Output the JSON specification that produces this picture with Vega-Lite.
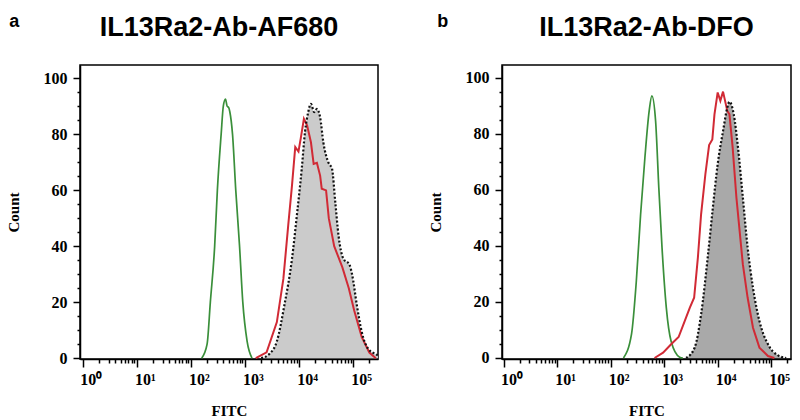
{
  "$schema": "https://vega.github.io/schema/vega-lite/v6.json",
  "padding": {"left": 5, "top": 13, "right": 5, "bottom": 3},
  "spacing": 48,
  "config": {
    "view": {"stroke": "black", "strokeWidth": 1.5},
    "axis": {"domainColor": "black", "domainWidth": 1.5, "tickColor": "black", "tickWidth": 1.5, "labelColor": "black", "titleColor": "black", "grid": false, "labelOverlap": false, "labelFont": "Liberation Serif", "labelFontWeight": "bold", "labelFontSize": 16, "titleFont": "Liberation Serif", "titleFontWeight": "bold", "titleFontSize": 15},
    "title": {"color": "black", "font": "Liberation Sans", "fontWeight": "bold"}
  },
  "datasets": {
    "a": [
      {"s": "green", "L": 2.20, "count": 0}, {"s": "green", "L": 2.30, "count": 5}, {"s": "green", "L": 2.36, "count": 20}, {"s": "green", "L": 2.44, "count": 40}, {"s": "green", "L": 2.49, "count": 60}, {"s": "green", "L": 2.56, "count": 80}, {"s": "green", "L": 2.60, "count": 90}, {"s": "green", "L": 2.64, "count": 92.5}, {"s": "green", "L": 2.67, "count": 90}, {"s": "green", "L": 2.70, "count": 89.5}, {"s": "green", "L": 2.72, "count": 88}, {"s": "green", "L": 2.77, "count": 80}, {"s": "green", "L": 2.83, "count": 60}, {"s": "green", "L": 2.90, "count": 40}, {"s": "green", "L": 2.96, "count": 20}, {"s": "green", "L": 3.04, "count": 6}, {"s": "green", "L": 3.13, "count": 0},
      {"s": "red", "L": 3.20, "count": 0}, {"s": "red", "L": 3.40, "count": 2.1}, {"s": "red", "L": 3.59, "count": 12.9}, {"s": "red", "L": 3.71, "count": 28.3}, {"s": "red", "L": 3.80, "count": 47.4}, {"s": "red", "L": 3.87, "count": 61.7}, {"s": "red", "L": 3.93, "count": 75.4}, {"s": "red", "L": 3.99, "count": 73.8}, {"s": "red", "L": 4.03, "count": 78.3}, {"s": "red", "L": 4.09, "count": 85.5}, {"s": "red", "L": 4.15, "count": 83.1}, {"s": "red", "L": 4.22, "count": 77.1}, {"s": "red", "L": 4.27, "count": 69.4}, {"s": "red", "L": 4.33, "count": 69.8}, {"s": "red", "L": 4.39, "count": 65.2}, {"s": "red", "L": 4.42, "count": 60.5}, {"s": "red", "L": 4.50, "count": 59.9}, {"s": "red", "L": 4.55, "count": 50}, {"s": "red", "L": 4.60, "count": 45}, {"s": "red", "L": 4.65, "count": 40}, {"s": "red", "L": 4.80, "count": 32.5}, {"s": "red", "L": 4.92, "count": 25}, {"s": "red", "L": 5.02, "count": 17}, {"s": "red", "L": 5.16, "count": 7.5}, {"s": "red", "L": 5.30, "count": 2}, {"s": "red", "L": 5.42, "count": 0},
      {"s": "gray", "L": 3.30, "count": 0}, {"s": "gray", "L": 3.45, "count": 1.5}, {"s": "gray", "L": 3.59, "count": 6}, {"s": "gray", "L": 3.73, "count": 19}, {"s": "gray", "L": 3.87, "count": 35.5}, {"s": "gray", "L": 3.96, "count": 51}, {"s": "gray", "L": 4.05, "count": 67.6}, {"s": "gray", "L": 4.11, "count": 80.7}, {"s": "gray", "L": 4.17, "count": 87.9}, {"s": "gray", "L": 4.22, "count": 90.8}, {"s": "gray", "L": 4.28, "count": 87.9}, {"s": "gray", "L": 4.33, "count": 89}, {"s": "gray", "L": 4.39, "count": 86}, {"s": "gray", "L": 4.45, "count": 77}, {"s": "gray", "L": 4.54, "count": 70}, {"s": "gray", "L": 4.61, "count": 67.6}, {"s": "gray", "L": 4.67, "count": 55.7}, {"s": "gray", "L": 4.73, "count": 43.8}, {"s": "gray", "L": 4.82, "count": 35.5}, {"s": "gray", "L": 4.93, "count": 33.5}, {"s": "gray", "L": 4.98, "count": 30}, {"s": "gray", "L": 5.07, "count": 18.8}, {"s": "gray", "L": 5.16, "count": 9.3}, {"s": "gray", "L": 5.28, "count": 3.3}, {"s": "gray", "L": 5.41, "count": 1.5}, {"s": "gray", "L": 5.46, "count": 1}
    ],
    "b": [
      {"s": "green", "L": 2.24, "count": 0}, {"s": "green", "L": 2.39, "count": 8.5}, {"s": "green", "L": 2.48, "count": 27.5}, {"s": "green", "L": 2.56, "count": 51.3}, {"s": "green", "L": 2.64, "count": 71.5}, {"s": "green", "L": 2.72, "count": 88.2}, {"s": "green", "L": 2.77, "count": 93.6}, {"s": "green", "L": 2.84, "count": 84.6}, {"s": "green", "L": 2.90, "count": 60.8}, {"s": "green", "L": 2.96, "count": 39.4}, {"s": "green", "L": 3.04, "count": 18}, {"s": "green", "L": 3.13, "count": 6}, {"s": "green", "L": 3.29, "count": 0.3}, {"s": "green", "L": 3.35, "count": 0},
      {"s": "red", "L": 2.82, "count": 0}, {"s": "red", "L": 2.98, "count": 1.9}, {"s": "red", "L": 3.13, "count": 4.9}, {"s": "red", "L": 3.27, "count": 7.5}, {"s": "red", "L": 3.38, "count": 13}, {"s": "red", "L": 3.48, "count": 18}, {"s": "red", "L": 3.56, "count": 21.5}, {"s": "red", "L": 3.63, "count": 35.8}, {"s": "red", "L": 3.69, "count": 51.3}, {"s": "red", "L": 3.77, "count": 65.6}, {"s": "red", "L": 3.84, "count": 76}, {"s": "red", "L": 3.90, "count": 78}, {"s": "red", "L": 3.94, "count": 87}, {"s": "red", "L": 4.00, "count": 94.8}, {"s": "red", "L": 4.05, "count": 91.8}, {"s": "red", "L": 4.10, "count": 95.1}, {"s": "red", "L": 4.18, "count": 88.2}, {"s": "red", "L": 4.22, "count": 87}, {"s": "red", "L": 4.28, "count": 75.1}, {"s": "red", "L": 4.35, "count": 57.3}, {"s": "red", "L": 4.41, "count": 45.4}, {"s": "red", "L": 4.47, "count": 33.5}, {"s": "red", "L": 4.56, "count": 21.5}, {"s": "red", "L": 4.66, "count": 10.8}, {"s": "red", "L": 4.78, "count": 3.7}, {"s": "red", "L": 4.94, "count": 0.7}, {"s": "red", "L": 5.06, "count": 0},
      {"s": "gray", "L": 3.41, "count": 0}, {"s": "gray", "L": 3.57, "count": 3.7}, {"s": "gray", "L": 3.69, "count": 15.6}, {"s": "gray", "L": 3.82, "count": 37}, {"s": "gray", "L": 3.91, "count": 53.7}, {"s": "gray", "L": 4.00, "count": 69.2}, {"s": "gray", "L": 4.10, "count": 81}, {"s": "gray", "L": 4.18, "count": 89.4}, {"s": "gray", "L": 4.22, "count": 91.5}, {"s": "gray", "L": 4.30, "count": 87}, {"s": "gray", "L": 4.38, "count": 75.1}, {"s": "gray", "L": 4.47, "count": 57.3}, {"s": "gray", "L": 4.56, "count": 39.4}, {"s": "gray", "L": 4.66, "count": 25}, {"s": "gray", "L": 4.78, "count": 13.2}, {"s": "gray", "L": 4.94, "count": 4.9}, {"s": "gray", "L": 5.12, "count": 1}, {"s": "gray", "L": 5.28, "count": 0}
    ]
  },
  "hconcat": [
    {
      "title": {"text": "a", "anchor": "start", "fontSize": 18, "offset": -18, "dx": 4},
      "vconcat": [
        {
          "width": 298, "height": 294,
          "title": {"text": "IL13Ra2-Ab-AF680", "fontSize": 27, "anchor": "middle", "frame": "group", "offset": 23, "dx": -10},
          "data": {"name": "a"},
          "encoding": {
            "x": {"field": "L", "type": "quantitative", "scale": {"domain": [-0.05, 5.46], "nice": false, "zero": false},
              "axis": {"title": "FITC", "values": [0,0.301,0.477,0.602,0.699,0.778,0.845,0.903,0.954,1,1.301,1.477,1.602,1.699,1.778,1.845,1.903,1.954,2,2.301,2.477,2.602,2.699,2.778,2.845,2.903,2.954,3,3.301,3.477,3.602,3.699,3.778,3.845,3.903,3.954,4,4.301,4.477,4.602,4.699,4.778,4.845,4.903,4.954,5,5.301],
                "labelExpr": "datum.value % 1 == 0 ? '10' + ['⁰','¹','²','³','⁴','⁵'][datum.value] : ''",
                "tickSize": {"condition": {"test": "datum.value % 1 == 0", "value": 8}, "value": 4},
                "labelPadding": 4, "labelOffset": 8, "titlePadding": 16}},
            "y": {"field": "count", "type": "quantitative", "scale": {"domain": [-0.3, 104.7], "nice": false, "zero": false},
              "axis": {"title": "Count", "values": [0,5,10,15,20,25,30,35,40,45,50,55,60,65,70,75,80,85,90,95,100],
                "labelExpr": "datum.value % 20 == 0 ? datum.label : ''",
                "tickSize": {"condition": {"test": "datum.value % 20 == 0", "value": 7}, "value": 3},
                "labelPadding": 6, "titlePadding": 22}}
          },
          "layer": [
            {"transform": [{"filter": "datum.s === 'gray'"}], "mark": {"type": "area", "color": "#cbcbcb", "interpolate": "monotone", "clip": true}},
            {"transform": [{"filter": "datum.s === 'green'"}], "mark": {"type": "line", "color": "#3a8f3a", "strokeWidth": 1.7, "interpolate": "monotone", "clip": true}},
            {"transform": [{"filter": "datum.s === 'red'"}], "mark": {"type": "line", "color": "#d12a35", "strokeWidth": 2, "clip": true}},
            {"transform": [{"filter": "datum.s === 'gray'"}], "mark": {"type": "line", "color": "#111111", "strokeWidth": 2.2, "strokeDash": [2, 2], "interpolate": "monotone", "clip": true}}
          ]
        }
      ]
    },
    {
      "title": {"text": "b", "anchor": "start", "fontSize": 18, "offset": -18, "dx": 10},
      "vconcat": [
        {
          "width": 289, "height": 294,
          "title": {"text": "IL13Ra2-Ab-DFO", "fontSize": 27, "anchor": "middle", "frame": "group", "offset": 23},
          "data": {"name": "b"},
          "encoding": {
            "x": {"field": "L", "type": "quantitative", "scale": {"domain": [-0.03, 5.37], "nice": false, "zero": false},
              "axis": {"title": "FITC", "values": [0,0.301,0.477,0.602,0.699,0.778,0.845,0.903,0.954,1,1.301,1.477,1.602,1.699,1.778,1.845,1.903,1.954,2,2.301,2.477,2.602,2.699,2.778,2.845,2.903,2.954,3,3.301,3.477,3.602,3.699,3.778,3.845,3.903,3.954,4,4.301,4.477,4.602,4.699,4.778,4.845,4.903,4.954,5,5.301],
                "labelExpr": "datum.value % 1 == 0 ? '10' + ['⁰','¹','²','³','⁴','⁵'][datum.value] : ''",
                "tickSize": {"condition": {"test": "datum.value % 1 == 0", "value": 8}, "value": 4},
                "labelPadding": 4, "labelOffset": 8, "titlePadding": 16}},
            "y": {"field": "count", "type": "quantitative", "scale": {"domain": [-0.36, 104.6], "nice": false, "zero": false},
              "axis": {"title": "Count", "values": [0,5,10,15,20,25,30,35,40,45,50,55,60,65,70,75,80,85,90,95,100],
                "labelExpr": "datum.value % 20 == 0 ? datum.label : ''",
                "tickSize": {"condition": {"test": "datum.value % 20 == 0", "value": 7}, "value": 3},
                "labelPadding": 6, "titlePadding": 22}}
          },
          "layer": [
            {"transform": [{"filter": "datum.s === 'gray'"}], "mark": {"type": "area", "color": "#a9a9a9", "interpolate": "monotone", "clip": true}},
            {"transform": [{"filter": "datum.s === 'green'"}], "mark": {"type": "line", "color": "#3a8f3a", "strokeWidth": 1.7, "interpolate": "monotone", "clip": true}},
            {"transform": [{"filter": "datum.s === 'red'"}], "mark": {"type": "line", "color": "#d12a35", "strokeWidth": 2, "clip": true}},
            {"transform": [{"filter": "datum.s === 'gray'"}], "mark": {"type": "line", "color": "#111111", "strokeWidth": 2.2, "strokeDash": [2, 2], "interpolate": "monotone", "clip": true}}
          ]
        }
      ]
    }
  ]
}
